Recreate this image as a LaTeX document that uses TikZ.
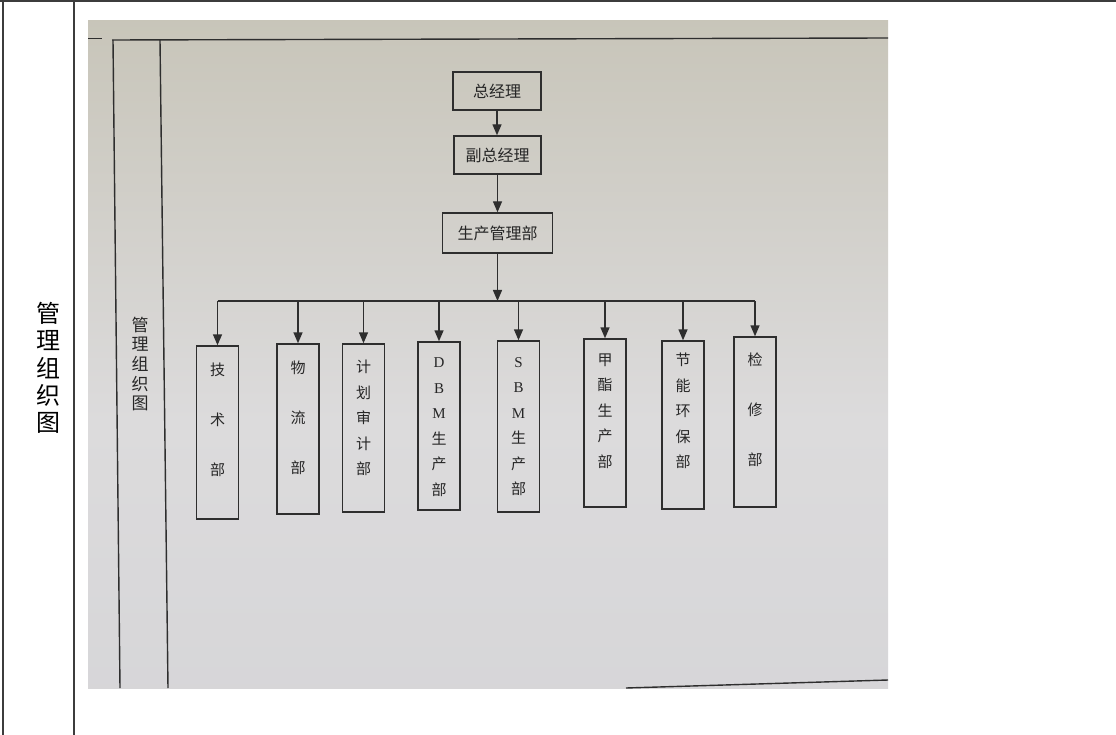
\documentclass[tikz,border=0pt]{standalone}
\usepackage{fontspec}
\setmainfont{Liberation Serif}
\newfontfamily\cjk{Noto Sans CJK SC}
\usetikzlibrary{arrows.meta}
\definecolor{tline}{HTML}{3C3C3C}
\definecolor{pline}{HTML}{2E2E2E}
\definecolor{phA}{RGB}{172,164,142}
\definecolor{phB}{RGB}{198,195,182}
\definecolor{phC}{RGB}{220,219,220}
\definecolor{phD}{RGB}{208,208,212}
\pgfdeclareverticalshading{photoshade}{100bp}{color(0bp)=(phD); color(45bp)=(phC); color(78bp)=(phB); color(100bp)=(phA)}
\newcommand\lat[1]{{\rmfamily #1}}
\tikzset{
  tableline/.style={draw=tline, line width=2pt},
  photoline/.style={draw=pline, line width=1.4pt},
  topbox/.style={draw=pline, line width=1.4pt, inner sep=0pt, text=black!85, font=\cjk\fontsize{16}{16}\selectfont},
  deptbox/.style={draw=pline, line width=1.4pt, inner sep=0pt, minimum width=42pt},
  depttext/.style={inner sep=0pt, align=center, text=black!85, font=\cjk\fontsize{15}{25.5}\selectfont},
  depttextwide/.style={inner sep=0pt, align=center, text=black!85, font=\cjk\fontsize{15}{50}\selectfont},
  arr/.style={draw=pline, line width=1.4pt, -{Triangle[length=11pt,width=9pt]}},
}
\begin{document}
\begin{tikzpicture}[x=1pt,y=-1pt]
\useasboundingbox (0,0) rectangle (1116,735);
\fill[white] (0,0) rectangle (1116,735);
% table
\draw[tableline] (0,1) -- (1116,1);
\draw[tableline] (2.7,0) -- (2.7,735);
\draw[tableline] (73.5,0) -- (73.5,735);
\node[inner sep=0pt, align=center, font=\cjk\fontsize{24}{27.4}\selectfont] (celltitle) at (48,368) {管\\理\\组\\织\\图};
% photo
\shade[shading=photoshade] (88,21) rectangle (888,688);
\draw[photoline, line width=1pt] (88,39) -- (102,39);
\draw[photoline] (112,40) -- (888,38);
\draw[photoline] (113,40) -- (120,688);
\draw[photoline] (160,40) -- (168,688);
\draw[photoline] (626,688) -- (888,680);
\node[inner sep=0pt, align=center, font=\cjk\fontsize{17}{19.6}\selectfont, text=black!85] (phtitle) at (140,364) {管\\理\\组\\织\\图};
% top chain
\node[topbox, minimum width=88pt, minimum height=38pt] (zong) at (497,91) {总经理};
\node[topbox, minimum width=87pt, minimum height=38pt] (fu) at (497.5,155) {副总经理};
\node[topbox, minimum width=110pt, minimum height=40pt] (sc) at (497.5,233) {生产管理部};
% departments
\node[deptbox, minimum height=173pt] (jishu) at (217.5,432.5) {};
\node[deptbox, minimum height=170pt] (wuliu) at (298,429) {};
\node[deptbox, minimum height=168pt] (jihua) at (363.5,428) {};
\node[deptbox, minimum height=168pt] (dbm) at (439,426) {};
\node[deptbox, minimum height=171pt] (sbm) at (518.5,426.5) {};
\node[deptbox, minimum height=168pt] (jiazhi) at (605,423) {};
\node[deptbox, minimum height=168pt] (jieneng) at (683,425) {};
\node[deptbox, minimum height=170pt] (jianxiu) at (755,422) {};
\node[depttextwide] (t1) at ([yshift=12.5pt]jishu.center) {技\\术\\部};
\node[depttextwide] (t2) at ([yshift=11pt]wuliu.center) {物\\流\\部};
\node[depttext] (t3) at ([yshift=10pt]jihua.center) {计\\划\\审\\计\\部};
\node[depttext] (t4) at ([yshift=-1pt]dbm.center) {\lat{D}\\\lat{B}\\\lat{M}\\生\\产\\部};
\node[depttext] (t5) at ([yshift=0pt]sbm.center) {\lat{S}\\\lat{B}\\\lat{M}\\生\\产\\部};
\node[depttext] (t6) at ([yshift=12pt]jiazhi.center) {甲\\酯\\生\\产\\部};
\node[depttext] (t7) at ([yshift=14pt]jieneng.center) {节\\能\\环\\保\\部};
\node[depttextwide] (t8) at ([yshift=12pt]jianxiu.center) {检\\修\\部};
% connectors
\coordinate (bary) at (0,301);
\draw[arr] (zong.south) -- (zong.south |- fu.north);
\draw[arr] (fu.south) -- (fu.south |- sc.north);
\draw[arr] (sc.south) -- (sc.south |- bary);
\draw[photoline] (jishu.north |- bary) -- (jianxiu.north |- bary);
\foreach \d in {jishu,wuliu,jihua,dbm,sbm,jiazhi,jieneng,jianxiu}
  \draw[arr] (\d.north |- bary) -- (\d.north);
\end{tikzpicture}
\end{document}
